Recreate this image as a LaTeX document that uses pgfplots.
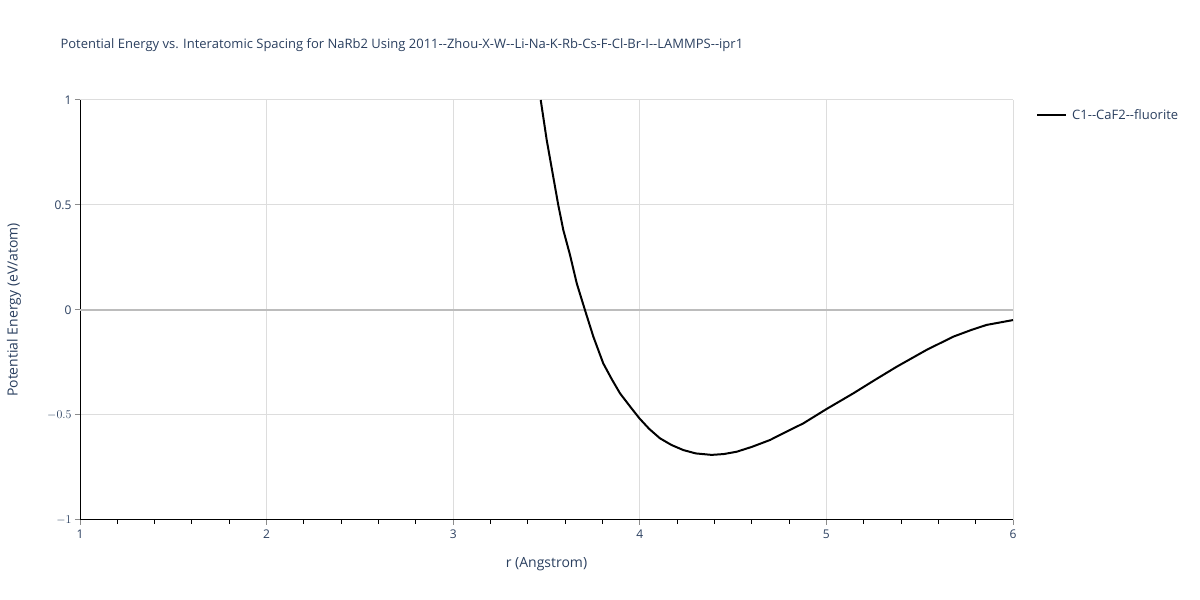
\documentclass[border=0pt]{standalone}
\usepackage{pgfplots}
\pgfplotsset{compat=1.18}
\usepackage{fontspec}
\setmainfont{Open Sans}
\definecolor{txt}{HTML}{2A3F5F}
\definecolor{grd}{HTML}{DDDDDD}
\begin{document}
\begin{tikzpicture}[x=1bp,y=1bp]
\path[use as bounding box] (0,0) rectangle (1200,600);
\begin{axis}[
  at={(80bp,80bp)}, anchor=south west,
  width=933bp, height=420bp, scale only axis,
  xmin=1, xmax=6, ymin=-1, ymax=1,
  xtick={1,2,3,4,5,6}, ytick={-1,-0.5,0,0.5,1},
  yticklabels={$-1$,$-0.5$,0,0.5,1},
  minor xtick={1.2,1.4,1.6,1.8,2.2,2.4,2.6,2.8,3.2,3.4,3.6,3.8,4.2,4.4,4.6,4.8,5.2,5.4,5.6,5.8},
  axis lines*=left,
  axis line style={black, line width=1bp},
  xmajorgrids, ymajorgrids,
  grid style={grd, line width=1bp},
  tick align=outside,
  major tick length=5bp, minor tick length=4bp,
  tick style={black!45, line width=1bp},
  minor tick style={black, line width=1bp},
  /pgf/number format/assume math mode=true,
  ticklabel style={font=\fontsize{12bp}{14bp}\selectfont, text=txt},
  xticklabel style={yshift=-1bp},
  xlabel={r (Angstrom)},
  label style={font=\fontsize{14bp}{16bp}\selectfont, text=txt},
  xlabel style={at={(axis description cs:0.5,0)}, yshift=-34bp},
  clip=true,
]
\addplot[grd!85!black, line width=1.5bp, forget plot] coordinates {(1,0) (6,0)};
\addplot[black, line width=2bp] coordinates {
(3.469,1.0) (3.501,0.81) (3.536,0.635) (3.563,0.5) (3.590,0.381) (3.626,0.262) (3.662,0.127) (3.706,0.0) (3.751,-0.127) (3.804,-0.254) (3.850,-0.330) (3.894,-0.397) (3.95,-0.462) (3.998,-0.516)
(4.05,-0.566) (4.108,-0.611) (4.17,-0.643) (4.233,-0.667) (4.30,-0.683) (4.385,-0.690) (4.45,-0.686) (4.519,-0.675) (4.60,-0.652) (4.698,-0.619) (4.78,-0.582) (4.876,-0.540) (4.998,-0.473)
(5.144,-0.397) (5.26,-0.333) (5.377,-0.270) (5.537,-0.190) (5.680,-0.127) (5.78,-0.094) (5.859,-0.071) (6.0,-0.048)};
\end{axis}
\node[rotate=90, text=txt, font=\fontsize{14bp}{16bp}\selectfont] at (14,290) {Potential Energy (eV/atom)};
\node[anchor=west, text=txt, font=\fontsize{13bp}{15bp}\selectfont] at (57,555) {Potential Energy vs. Interatomic Spacing for NaRb2 Using 2011-{}-Zhou-X-W-{}-Li-Na-K-Rb-Cs-F-Cl-Br-I-{}-LAMMPS-{}-ipr1};
\draw[black, line width=2bp] (1037,485) -- (1066,485);
\node[anchor=west, text=txt, font=\fontsize{13bp}{15bp}\selectfont, inner sep=0] at (1072,485) {C1-{}-CaF2-{}-fluorite};
\end{tikzpicture}
\end{document}
